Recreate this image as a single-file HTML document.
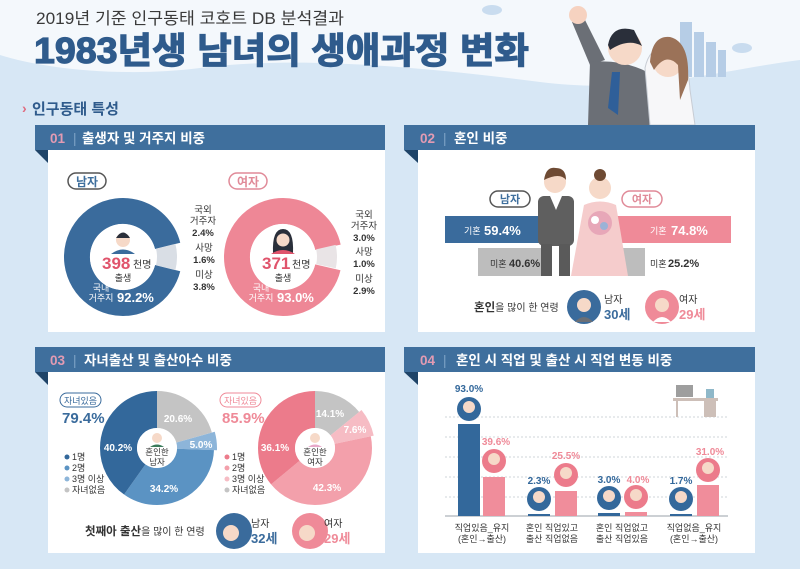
<!DOCTYPE html>
<html><head><meta charset="utf-8"><style>
html,body{margin:0;padding:0;width:800px;height:569px;overflow:hidden;background:#d7e7f5}
svg{display:block;font-family:"Liberation Sans","Noto Sans CJK KR",sans-serif}
</style></head><body>
<svg width="800" height="569" viewBox="0 0 800 569" xmlns="http://www.w3.org/2000/svg">
<rect width="800" height="569" fill="#d7e7f5"/>
<path d="M0 0H800V60C720 70 640 95 540 82C430 68 300 55 200 68C120 78 40 68 0 55Z" fill="#f4f8fc"/>
<!-- clouds & buildings -->
<ellipse cx="492" cy="10" rx="10" ry="5" fill="#c9dcef"/>
<ellipse cx="742" cy="48" rx="10" ry="5" fill="#c9dcef"/>
<g fill="#b6cde6"><rect x="680" y="22" width="12" height="55"/><rect x="694" y="32" width="10" height="45"/><rect x="706" y="42" width="10" height="35"/><rect x="718" y="50" width="8" height="27"/></g>
<!-- couple -->
<g>
<path d="M590 65 L572 22 L584 18 L605 60 Z" fill="#6b6f76"/>
<circle cx="578" cy="15" r="9" fill="#f6d2c0"/>
<path d="M590 62 Q630 58 660 80 L665 125 L588 125 Z" fill="#6b6f76"/>
<path d="M612 72 L620 72 L618 115 L608 108Z" fill="#2f5f99"/>
<circle cx="625" cy="48" r="17" fill="#f6d9c8"/>
<path d="M608 45 Q612 24 634 30 L642 46 Q628 38 610 50Z" fill="#2a2f3a"/>
<path d="M645 68 Q650 45 668 48 Q688 55 690 90 L695 125 L650 125 Z" fill="#f7f7f9" stroke="#c7ccd4"/>
<circle cx="668" cy="62" r="15" fill="#f6d9c8"/>
<path d="M650 62 Q652 35 670 37 Q690 42 688 80 L680 100 L678 65 Q666 52 654 70Z" fill="#9b7258"/>
</g>
<text x="36" y="24" font-size="16.5" fill="#3a3a3a" textLength="308" lengthAdjust="spacingAndGlyphs">2019년 기준 인구동태 코호트 DB 분석결과</text>
<text x="34" y="63" font-size="36" font-weight="bold" fill="#2f5b8c" stroke="#2f5b8c" stroke-width="1.2" textLength="495" lengthAdjust="spacingAndGlyphs">1983년생 남녀의 생애과정 변화</text>
<text x="22" y="113" font-size="14" fill="#e06b7f" font-weight="bold">›</text>
<text x="32" y="114" font-size="15" font-weight="bold" fill="#2f5b8c">인구동태 특성</text>

<!-- Panel frames -->
<g>
<rect x="48" y="150" width="337" height="182" fill="#fff"/>
<rect x="418" y="150" width="337" height="182" fill="#fff"/>
<rect x="48" y="372" width="337" height="181" fill="#fff"/>
<rect x="418" y="372" width="337" height="181" fill="#fff"/>
<g fill="#1f4468"><path d="M35 150 H48 V163Z"/><path d="M404 150 H418 V163Z"/><path d="M35 372 H48 V385Z"/><path d="M404 372 H418 V385Z"/></g>
<g fill="#3f6f9d"><rect x="35" y="125" width="350" height="25"/><rect x="404" y="125" width="351" height="25"/><rect x="35" y="347" width="350" height="25"/><rect x="404" y="347" width="351" height="25"/></g>
<g font-size="13.5" font-weight="bold">
<text x="50" y="143" fill="#e39bb3">01</text><text x="73" y="143" fill="#7ea3c6" font-weight="normal">|</text><text x="82" y="143" fill="#fff">출생자 및 거주지 비중</text>
<text x="420" y="143" fill="#e39bb3">02</text><text x="443" y="143" fill="#7ea3c6" font-weight="normal">|</text><text x="454" y="143" fill="#fff">혼인 비중</text>
<text x="50" y="365" fill="#e39bb3">03</text><text x="73" y="365" fill="#7ea3c6" font-weight="normal">|</text><text x="84" y="365" fill="#fff">자녀출산 및 출산아수 비중</text>
<text x="420" y="365" fill="#e39bb3">04</text><text x="443" y="365" fill="#7ea3c6" font-weight="normal">|</text><text x="456" y="365" fill="#fff">혼인 시 직업 및 출산 시 직업 변동 비중</text>
</g>
</g>

<!-- Panel 1 -->
<rect x="68" y="173" width="38" height="16" rx="8" fill="#fff" stroke="#555" stroke-width="1.5"/>
<text x="87" y="186" font-size="12" font-weight="bold" fill="#3f6f9d" text-anchor="middle">남자</text>
<rect x="229" y="173" width="38" height="16" rx="8" fill="#fff" stroke="#e08a98" stroke-width="1.5"/>
<text x="248" y="186" font-size="12" font-weight="bold" fill="#e08a98" text-anchor="middle">여자</text>
<g transform="translate(123,257)">
<circle r="46" fill="none" stroke="#3a6b9c" stroke-width="26" pathLength="100" stroke-dasharray="92.2 7.8" transform="rotate(14)"/>
<circle r="44" fill="none" stroke="#d9dee5" stroke-width="20" pathLength="100" stroke-dasharray="7.8 92.2" transform="rotate(-14)"/>
<circle r="33" fill="#fff"/>
<circle cx="0" cy="-17" r="7" fill="#f6d9c8"/><path d="M-7 -19 Q0 -30 7 -19Z" fill="#2a2f3a"/><path d="M-12 -3 Q0 -12 12 -3Z" fill="#3a6b9c"/>
<text x="-21" y="12" font-size="17" font-weight="bold" fill="#e0546c">398</text><text x="10" y="11" font-size="10" fill="#333">천명</text>
<text x="0" y="24" font-size="9" fill="#333" text-anchor="middle">출생</text>
<text x="-22" y="34" font-size="9" fill="#fff" text-anchor="middle">국내</text>
<text x="-22" y="44" font-size="9" fill="#fff" text-anchor="middle">거주지</text>
<text x="-6" y="45" font-size="13" font-weight="bold" fill="#fff">92.2%</text>
</g>
<g font-size="9.5" fill="#333" text-anchor="middle">
<text x="203" y="213">국외</text><text x="203" y="224">거주자</text><text x="203" y="236" font-weight="bold">2.4%</text>
<text x="204" y="251">사망</text><text x="204" y="263" font-weight="bold">1.6%</text>
<text x="204" y="278">미상</text><text x="204" y="290" font-weight="bold">3.8%</text>
</g>
<g transform="translate(283,257)">
<circle r="46" fill="none" stroke="#ee8796" stroke-width="26" pathLength="100" stroke-dasharray="93 7" transform="rotate(13)"/>
<circle r="44" fill="none" stroke="#e9e4e6" stroke-width="20" pathLength="100" stroke-dasharray="7 93" transform="rotate(-13)"/>
<circle r="33" fill="#fff"/>
<path d="M-10 -4 Q-11 -28 0 -28 Q11 -28 10 -4Z" fill="#2a2f3a"/><circle cx="0" cy="-17" r="6.5" fill="#f6d9c8"/><path d="M-12 -3 Q0 -11 12 -3Z" fill="#e0546c"/>
<text x="-21" y="12" font-size="17" font-weight="bold" fill="#e0546c">371</text><text x="9" y="11" font-size="10" fill="#333">천명</text>
<text x="0" y="24" font-size="9" fill="#333" text-anchor="middle">출생</text>
<text x="-22" y="34" font-size="9" fill="#fff" text-anchor="middle">국내</text>
<text x="-22" y="44" font-size="9" fill="#fff" text-anchor="middle">거주지</text>
<text x="-6" y="45" font-size="13" font-weight="bold" fill="#fff">93.0%</text>
</g>
<g font-size="9.5" fill="#333" text-anchor="middle">
<text x="364" y="218">국외</text><text x="364" y="229">거주자</text><text x="364" y="241" font-weight="bold">3.0%</text>
<text x="364" y="255">사망</text><text x="364" y="267" font-weight="bold">1.0%</text>
<text x="364" y="282">미상</text><text x="364" y="294" font-weight="bold">2.9%</text>
</g>

<!-- Panel 2 -->
<rect x="445" y="216" width="95" height="27" fill="#3a6b9c"/>
<rect x="478" y="248" width="67" height="28" fill="#bdbdbd"/>
<rect x="615" y="216" width="116" height="27" fill="#ef8a98"/>
<rect x="600" y="248" width="45" height="28" fill="#bdbdbd"/>
<text x="464" y="234" font-size="9" fill="#fff">기혼</text><text x="484" y="235" font-size="13" font-weight="bold" fill="#fff">59.4%</text>
<text x="650" y="234" font-size="9" fill="#fff">기혼</text><text x="671" y="235" font-size="13" font-weight="bold" fill="#fff">74.8%</text>
<text x="490" y="267" font-size="9" fill="#333">미혼</text><text x="509" y="267" font-size="11" font-weight="bold" fill="#333">40.6%</text>
<text x="650" y="267" font-size="9" fill="#333">미혼</text><text x="668" y="267" font-size="11" font-weight="bold" fill="#333">25.2%</text>
<rect x="490" y="191" width="40" height="16" rx="8" fill="#fff" stroke="#555" stroke-width="1.5"/>
<text x="510" y="203" font-size="11" font-weight="bold" fill="#3f6f9d" text-anchor="middle">남자</text>
<rect x="622" y="191" width="40" height="16" rx="8" fill="#fff" stroke="#e08a98" stroke-width="1.5"/>
<text x="642" y="203" font-size="11" font-weight="bold" fill="#e08a98" text-anchor="middle">여자</text>
<!-- groom -->
<circle cx="555" cy="182" r="11" fill="#f6d9c8"/><path d="M544 180 Q546 166 556 168 Q566 168 566 180 Q560 172 544 180Z" fill="#6e4a33"/>
<rect x="538" y="196" width="36" height="50" rx="6" fill="#5f5f5f"/>
<path d="M550 196 L562 196 L556 210Z" fill="#fff"/>
<rect x="541" y="244" width="11" height="32" fill="#5a5a5a"/><rect x="559" y="244" width="11" height="32" fill="#5a5a5a"/>
<!-- bride -->
<circle cx="600" cy="188" r="11" fill="#f6d9c8"/><circle cx="600" cy="175" r="6" fill="#6e4a33"/>
<path d="M584 205 Q600 198 616 205 L628 276 L571 276 Z" fill="#f5cccc"/>
<circle cx="600" cy="223" r="12" fill="#e7a7b8"/><circle cx="595" cy="220" r="4" fill="#fff"/><circle cx="604" cy="226" r="4" fill="#9bb2d6"/>
<text x="474" y="311" font-size="10" fill="#333"><tspan font-weight="bold" font-size="11.5">혼인</tspan>을 많이 한 연령</text>
<circle cx="584" cy="307" r="17" fill="#3a6b9c"/><circle cx="584" cy="305" r="7" fill="#f6d9c8"/><path d="M575 322 Q584 312 593 322Z" fill="#6b6f76"/>
<text x="604" y="303" font-size="10" fill="#333">남자</text><text x="604" y="319" font-size="13" font-weight="bold" fill="#3a6b9c">30세</text>
<circle cx="662" cy="307" r="17" fill="#ef8a98"/><circle cx="662" cy="305" r="7" fill="#f6d9c8"/><path d="M653 322 Q662 312 671 322Z" fill="#fff"/>
<text x="679" y="303" font-size="10" fill="#333">여자</text><text x="679" y="319" font-size="13" font-weight="bold" fill="#ef8a98">29세</text>

<!-- Panel 3 -->
<rect x="60" y="393" width="41" height="14" rx="7" fill="#fff" stroke="#3a6b9c"/>
<text x="80.5" y="404" font-size="9" fill="#3a6b9c" text-anchor="middle">자녀있음</text>
<text x="62" y="423" font-size="15" font-weight="bold" fill="#3a6b9c">79.4%</text>
<g transform="translate(157,448)">
<circle r="38.5" fill="none" stroke="#c4c4c4" stroke-width="37" pathLength="100" stroke-dasharray="20.6 79.4" transform="rotate(-90)"/>
<circle r="40" fill="none" stroke="#8db5d9" stroke-width="40" pathLength="100" stroke-dasharray="0 20.6 5 74.4" transform="rotate(-90)"/>
<circle r="38.5" fill="none" stroke="#5b93c3" stroke-width="37" pathLength="100" stroke-dasharray="0 25.6 34.2 40.2" transform="rotate(-90)"/>
<circle r="38.5" fill="none" stroke="#33689b" stroke-width="37" pathLength="100" stroke-dasharray="0 59.8 40.2 0" transform="rotate(-90)"/>
<circle r="20" fill="#fff"/>
<circle cx="0" cy="-10" r="5" fill="#f6d9c8"/><path d="M-7 -1 Q0 -6 7 -1Z" fill="#3a7a5a"/>
<text x="0" y="7" font-size="8.5" fill="#333" text-anchor="middle">혼인한</text><text x="0" y="17" font-size="8.5" fill="#333" text-anchor="middle">남자</text>
</g>
<g font-size="10" font-weight="bold" fill="#fff" text-anchor="middle">
<text x="178" y="422">20.6%</text><text x="201" y="448">5.0%</text><text x="164" y="492">34.2%</text><text x="118" y="451">40.2%</text>
</g>
<g font-size="9" fill="#333">
<circle cx="67" cy="457" r="2.5" fill="#33689b"/><text x="72" y="460">1명</text>
<circle cx="67" cy="468" r="2.5" fill="#5b93c3"/><text x="72" y="471">2명</text>
<circle cx="67" cy="479" r="2.5" fill="#8db5d9"/><text x="72" y="482">3명 이상</text>
<circle cx="67" cy="490" r="2.5" fill="#c4c4c4"/><text x="72" y="493">자녀없음</text>
</g>
<rect x="220" y="393" width="41" height="14" rx="7" fill="#fff" stroke="#ef8a98"/>
<text x="240.5" y="404" font-size="9" fill="#ef8a98" text-anchor="middle">자녀있음</text>
<text x="222" y="423" font-size="15" font-weight="bold" fill="#ef8a98">85.9%</text>
<g transform="translate(315,448)">
<circle r="38.5" fill="none" stroke="#c4c4c4" stroke-width="37" pathLength="100" stroke-dasharray="14.1 85.9" transform="rotate(-90)"/>
<circle r="40" fill="none" stroke="#f6bcc4" stroke-width="40" pathLength="100" stroke-dasharray="0 14.1 7.6 78.3" transform="rotate(-90)"/>
<circle r="38.5" fill="none" stroke="#f3a0ab" stroke-width="37" pathLength="100" stroke-dasharray="0 21.7 42.3 36" transform="rotate(-90)"/>
<circle r="38.5" fill="none" stroke="#ec7b8b" stroke-width="37" pathLength="100" stroke-dasharray="0 64 36.1 0" transform="rotate(-90)"/>
<circle r="20" fill="#fff"/>
<circle cx="0" cy="-10" r="5" fill="#f6d9c8"/><path d="M-7 -1 Q0 -6 7 -1Z" fill="#e7a7c8"/>
<text x="0" y="7" font-size="8.5" fill="#333" text-anchor="middle">혼인한</text><text x="0" y="17" font-size="8.5" fill="#333" text-anchor="middle">여자</text>
</g>
<g font-size="10" font-weight="bold" fill="#fff" text-anchor="middle">
<text x="330" y="417">14.1%</text><text x="355" y="433">7.6%</text><text x="327" y="491">42.3%</text><text x="275" y="451">36.1%</text>
</g>
<g font-size="9" fill="#333">
<circle cx="227" cy="457" r="2.5" fill="#ec7b8b"/><text x="232" y="460">1명</text>
<circle cx="227" cy="468" r="2.5" fill="#f3a0ab"/><text x="232" y="471">2명</text>
<circle cx="227" cy="479" r="2.5" fill="#f6bcc4"/><text x="232" y="482">3명 이상</text>
<circle cx="227" cy="490" r="2.5" fill="#c4c4c4"/><text x="232" y="493">자녀없음</text>
</g>
<text x="85" y="535" font-size="10" fill="#333"><tspan font-weight="bold" font-size="11.5">첫째아 출산</tspan>을 많이 한 연령</text>
<circle cx="234" cy="531" r="18" fill="#3a6b9c"/><circle cx="231" cy="533" r="8" fill="#f6d9c8"/>
<text x="251" y="527" font-size="10" fill="#333">남자</text><text x="251" y="543" font-size="13" font-weight="bold" fill="#3a6b9c">32세</text>
<circle cx="310" cy="531" r="18" fill="#ef8a98"/><circle cx="307" cy="533" r="8" fill="#f6d9c8"/>
<text x="324" y="527" font-size="10" fill="#333">여자</text><text x="324" y="543" font-size="13" font-weight="bold" fill="#ef8a98">29세</text>

<!-- Panel 4 -->
<g stroke="#cfd4da" stroke-dasharray="2 2">
<line x1="445" y1="417" x2="728" y2="417"/><line x1="445" y1="437" x2="728" y2="437"/><line x1="445" y1="457" x2="728" y2="457"/><line x1="445" y1="477" x2="728" y2="477"/><line x1="445" y1="497" x2="728" y2="497"/>
</g>
<!-- desk -->
<g fill="#cdbfb8"><rect x="673" y="398" width="45" height="3"/><rect x="676" y="401" width="2" height="16"/><rect x="704" y="401" width="12" height="16"/><rect x="676" y="385" width="17" height="12" fill="#9e9e9e"/><rect x="706" y="389" width="8" height="9" fill="#8fb8c9"/></g>
<line x1="445" y1="516" x2="728" y2="516" stroke="#9aa1a8"/>
<g fill="#33689b"><rect x="458" y="424" width="22" height="92"/><rect x="528" y="514" width="22" height="2"/><rect x="598" y="513" width="22" height="3"/><rect x="670" y="514" width="22" height="2"/></g>
<g fill="#f08d9b"><rect x="483" y="477" width="22" height="39"/><rect x="555" y="491" width="22" height="25"/><rect x="625" y="512" width="22" height="4"/><rect x="697" y="485" width="22" height="31"/></g>
<g>
<circle cx="469" cy="409" r="12" fill="#33689b"/><circle cx="469" cy="407" r="6" fill="#f6d9c8"/>
<circle cx="494" cy="461" r="12" fill="#ec7b8b"/><circle cx="494" cy="459" r="6" fill="#f6d9c8"/>
<circle cx="539" cy="499" r="12" fill="#33689b"/><circle cx="539" cy="497" r="6" fill="#f6d9c8"/>
<circle cx="566" cy="475" r="12" fill="#ec7b8b"/><circle cx="566" cy="473" r="6" fill="#f6d9c8"/>
<circle cx="609" cy="498" r="12" fill="#33689b"/><circle cx="609" cy="496" r="6" fill="#f6d9c8"/>
<circle cx="636" cy="497" r="12" fill="#ec7b8b"/><circle cx="636" cy="495" r="6" fill="#f6d9c8"/>
<circle cx="681" cy="499" r="12" fill="#33689b"/><circle cx="681" cy="497" r="6" fill="#f6d9c8"/>
<circle cx="708" cy="470" r="12" fill="#ec7b8b"/><circle cx="708" cy="468" r="6" fill="#f6d9c8"/>
</g>
<g font-size="10" font-weight="bold" text-anchor="middle">
<text x="469" y="392" fill="#33689b">93.0%</text>
<text x="496" y="445" fill="#ef8a98">39.6%</text>
<text x="539" y="484" fill="#33689b">2.3%</text>
<text x="566" y="459" fill="#ef8a98">25.5%</text>
<text x="609" y="483" fill="#33689b">3.0%</text>
<text x="638" y="483" fill="#ef8a98">4.0%</text>
<text x="681" y="484" fill="#33689b">1.7%</text>
<text x="710" y="455" fill="#ef8a98">31.0%</text>
</g>
<g font-size="9" fill="#333" text-anchor="middle">
<text x="482" y="531">직업있음_유지</text><text x="482" y="542">(혼인→출산)</text>
<text x="552" y="531">혼인 직업있고</text><text x="552" y="542">출산 직업없음</text>
<text x="622" y="531">혼인 직업없고</text><text x="622" y="542">출산 직업있음</text>
<text x="694" y="531">직업없음_유지</text><text x="694" y="542">(혼인→출산)</text>
</g>
</svg>
</body></html>
